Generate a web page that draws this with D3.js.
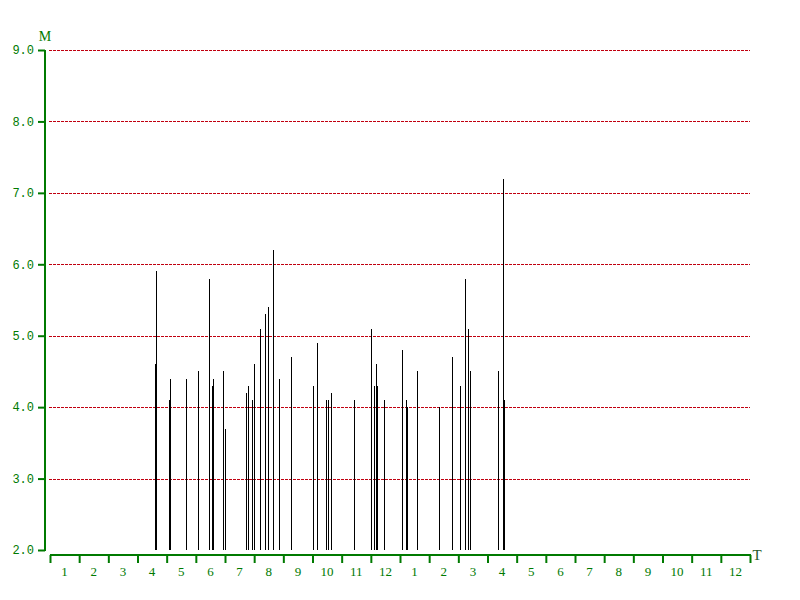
<!DOCTYPE html>
<html><head><meta charset="utf-8">
<script src="https://cdn.jsdelivr.net/npm/d3@7"></script>
<style>body{margin:0;background:#fff}svg{display:block}</style>
</head><body>
<script>
// time position in months since start of the 24-month window
const eventMonths = [3.61,3.645,4.07,4.10,4.67,5.06,5.46,5.56,5.60,5.94,6.01,6.73,6.80,6.94,7.00,7.19,7.38,7.48,7.66,7.84,8.27,9.03,9.16,9.47,9.54,9.64,10.43,11.00,11.10,11.19,11.22,11.46,12.08,12.22,12.25,12.59,13.35,13.79,14.07,14.24,14.34,14.41,15.37,15.54,15.58];
const magnitudes = [4.6,5.9,4.1,4.4,4.4,4.5,5.8,4.3,4.4,4.5,3.7,4.2,4.3,4.1,4.6,5.1,5.3,5.4,6.2,4.4,4.7,4.3,4.9,4.1,4.1,4.2,4.1,5.1,4.3,4.6,4.3,4.1,4.8,4.1,4.0,4.5,4.0,4.7,4.3,5.8,5.1,4.5,4.5,7.2,4.1];
const monthLabels = ["1","2","3","4","5","6","7","8","9","10","11","12","1","2","3","4","5","6","7","8","9","10","11","12"];
const yTicks = [2,3,4,5,6,7,8,9];
const yTitle = "M", xTitle = "T";

const W = 800, H = 600;
const svg = d3.select("body").append("svg").attr("width", W).attr("height", H);
const x = d3.scaleLinear().domain([0, 24]).range([50, 750]);
const y = d3.scaleLinear().domain([2, 9]).range([550, 50]);
const green = "#007a00";

// grid
svg.append("g").attr("shape-rendering", "crispEdges").selectAll("line").data(yTicks.filter(d => d > 2)).join("line")
  .attr("x1", 49).attr("x2", 750)
  .attr("y1", d => Math.round(y(d)) + 0.5).attr("y2", d => Math.round(y(d)) + 0.5)
  .attr("stroke", "#c00010").attr("stroke-width", 1).attr("stroke-dasharray", "3,1");

// bars
svg.append("g").attr("shape-rendering", "crispEdges").selectAll("line").data(eventMonths.map((m, i) => ({m, v: magnitudes[i]}))).join("line")
  .attr("x1", d => Math.round(x(d.m)) + 0.5).attr("x2", d => Math.round(x(d.m)) + 0.5)
  .attr("y1", y(2)).attr("y2", d => Math.round(y(d.v)))
  .attr("stroke", "#000").attr("stroke-width", 1);

// y axis
const yAxis = d3.axisLeft(y).tickValues(yTicks).tickFormat(d3.format(".1f")).tickSize(7).tickPadding(4);
const gy = svg.append("g").attr("transform", "translate(45,0)").call(yAxis);
gy.select(".domain").attr("stroke", green).attr("stroke-width", 2).attr("d", "M0,50V551");
gy.selectAll(".tick line").attr("stroke", green).attr("stroke-width", 2);
gy.selectAll(".tick text").attr("fill", green).attr("font-family", "Liberation Mono").attr("font-size", 12);

// x axis
const xAxis = d3.axisBottom(x).tickValues(d3.range(0, 25)).tickFormat("").tickSize(8);
const gx = svg.append("g").attr("transform", "translate(0,555)").call(xAxis);
gx.select(".domain").attr("stroke", green).attr("stroke-width", 2).attr("d", "M50,0H751");
gx.selectAll(".tick line").attr("stroke", green).attr("stroke-width", 2);
svg.append("g").selectAll("text").data(monthLabels).join("text")
  .attr("x", (d, i) => x(i + 0.5)).attr("y", 576)
  .attr("text-anchor", "middle").attr("fill", green)
  .attr("font-family", "Liberation Serif").attr("font-size", 13).text(d => d);

svg.append("text").attr("x", 45).attr("y", 41).attr("text-anchor", "middle")
  .attr("fill", green).attr("font-family", "Liberation Serif").attr("font-size", 14).text(yTitle);
svg.append("text").attr("x", 757).attr("y", 560).attr("text-anchor", "middle")
  .attr("fill", "#2a5a2a").attr("font-family", "Liberation Serif").attr("font-size", 15).text(xTitle);
</script>
</body></html>
